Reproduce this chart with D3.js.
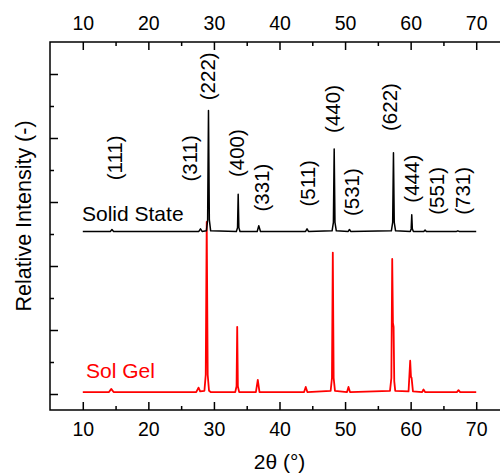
<!DOCTYPE html>
<html>
<head>
<meta charset="utf-8">
<script src="https://cdn.jsdelivr.net/npm/d3@7"></script>
<style>
  body { margin: 0; background: #fff; }
  svg text { font-family: "Liberation Sans", Arial, Helvetica, sans-serif; fill: #000; }
</style>
</head>
<body>
<svg id="grafico"></svg>
<script>
// padroes: [2theta, intensidade relativa]
const solGel = [
  [10, 0.03], [14.0, 0.03], [14.33, 0.08], [14.7, 0.03],
  [27.3, 0.03], [27.65, 0.10], [27.9, 0.04], [28.55, 0.05], [28.75, 0.3], [28.9, 2.69], [29.05, 0.3], [29.25, 0.05], [29.5, 0.03],
  [33.25, 0.03], [33.45, 0.12], [33.55, 1.05], [33.65, 0.12], [33.85, 0.03],
  [36.4, 0.03], [36.69, 0.22], [36.95, 0.03],
  [43.75, 0.03], [44.0, 0.11], [44.25, 0.03],
  [47.8, 0.05], [48.0, 0.25], [48.13, 2.21], [48.26, 0.25], [48.46, 0.05],
  [50.3, 0.03], [50.52, 0.11], [50.75, 0.03],
  [56.85, 0.05], [57.06, 0.25], [57.19, 2.11], [57.3, 1.11], [57.4, 1.05], [57.5, 0.2], [57.65, 0.05],
  [59.68, 0.04], [59.93, 0.52], [60.05, 0.27], [60.15, 0.25], [60.35, 0.04],
  [61.75, 0.03], [61.96, 0.07], [62.2, 0.03],
  [67.05, 0.03], [67.3, 0.06], [67.55, 0.03], [70, 0.03]
];

const solidState = [
  [10, 0.04], [14.2, 0.04], [14.45, 0.07], [14.7, 0.04],
  [27.7, 0.04], [27.95, 0.08], [28.2, 0.04], [28.85, 0.05], [29.04, 0.22], [29.17, 1.93], [29.3, 0.22], [29.5, 0.05],
  [33.42, 0.04], [33.6, 0.1], [33.7, 0.62], [33.8, 0.1], [33.98, 0.04],
  [36.6, 0.04], [36.84, 0.13], [37.1, 0.04],
  [43.98, 0.04], [44.2, 0.08], [44.42, 0.04],
  [48.02, 0.05], [48.22, 0.18], [48.34, 1.33], [48.46, 0.18], [48.66, 0.05],
  [57.06, 0.05], [57.26, 0.18], [57.38, 1.27], [57.5, 0.18], [57.7, 0.05],
  [50.48, 0.04], [50.67, 0.07], [50.86, 0.04],
  [59.94, 0.04], [60.08, 0.08], [60.17, 0.30], [60.26, 0.08], [60.42, 0.04],
  [62.0, 0.04], [62.2, 0.06], [62.4, 0.04],
  [67.0, 0.04], [67.2, 0.05], [67.4, 0.04], [70, 0.04]
];

const deslocamentoSolidState = 2.5;

const hkl = ["(111)", "(311)", "(222)", "(400)", "(331)", "(511)", "(440)", "(531)", "(622)", "(444)", "(551)", "(731)"];
const hklAngulo = [14.83, 26.27, 29.06, 33.4, 37.2, 44.3, 48.13, 50.93, 56.77, 60.08, 63.9, 67.95];
const hklAltura = [3.34, 3.32, 4.59, 3.39, 2.85, 2.93, 4.08, 2.78, 4.11, 2.99, 2.80, 2.80];

const ticksX = [10, 20, 30, 40, 50, 60, 70];
const ticksXMenores = [15, 25, 35, 45, 55, 65];
const ticksY = [0, 1, 2, 3, 4, 5];
const ticksYMenores = [0.5, 1.5, 2.5, 3.5, 4.5];

const largura = 500, altura = 476;
const margem = { esquerda: 50, topo: 42, direita: 509, base: 410 };

let svg = d3.select("#grafico")
  .attr("width", largura)
  .attr("height", altura);

let fnX = d3.scaleLinear().domain([5, 75]).range([margem.esquerda, margem.direita]);
let fnY = d3.scaleLinear().domain([-0.25, 5.5]).range([margem.base, margem.topo]);

// series (sol gel por baixo)
let linha = d3.line().x(d => fnX(d[0])).y(d => fnY(d[1]));
let ordenar = arr => arr.slice().sort((a, b) => a[0] - b[0]);

svg.append("path")
  .datum(ordenar(solGel))
  .attr("d", linha)
  .attr("fill", "none")
  .attr("stroke", "#ff0000")
  .attr("stroke-width", 1.8)
  .attr("stroke-linejoin", "round");

svg.append("path")
  .datum(ordenar(solidState).map(d => [d[0], d[1] + deslocamentoSolidState]))
  .attr("d", linha)
  .attr("fill", "none")
  .attr("stroke", "#000")
  .attr("stroke-width", 1.5)
  .attr("stroke-linejoin", "round");

// eixos
function eixo(gerador, transform, valores, tamanho, rotulos) {
  let g = svg.append("g")
    .attr("transform", transform)
    .call(gerador
      .tickValues(valores)
      .tickSize(tamanho)
      .tickSizeOuter(0)
      .tickPadding(12)
      .tickFormat(rotulos ? d3.format("d") : ""));
  g.select(".domain").remove();
  g.selectAll("line").attr("stroke", "#000").attr("stroke-width", 1.5);
  g.selectAll("text").attr("font-size", 19.5).attr("fill", "#000");
  return g;
}

eixo(d3.axisTop(fnX), `translate(0,${margem.topo})`, ticksX, -8, true);
eixo(d3.axisTop(fnX), `translate(0,${margem.topo})`, ticksXMenores, -4, false);
eixo(d3.axisBottom(fnX), `translate(0,${margem.base})`, ticksX, -8, true);
eixo(d3.axisBottom(fnX), `translate(0,${margem.base})`, ticksXMenores, -4, false);
eixo(d3.axisLeft(fnY), `translate(${margem.esquerda},0)`, ticksY, -8, false);
eixo(d3.axisLeft(fnY), `translate(${margem.esquerda},0)`, ticksYMenores, -4, false);

svg.append("path")
  .attr("d", `M${margem.direita},${margem.topo}H${margem.esquerda}V${margem.base}H${margem.direita}`)
  .attr("fill", "none")
  .attr("stroke", "#000")
  .attr("stroke-width", 1.5);

// indices de Miller
svg.selectAll(".rotulo")
  .data(hkl)
  .enter()
  .append("text")
  .classed("rotulo", true)
  .attr("transform", (d, i) => `translate(${fnX(hklAngulo[i])},${fnY(hklAltura[i])}) rotate(-90)`)
  .attr("dy", "0.36em")
  .attr("font-size", 20.5)
  .text(d => d);

// nomes das series
svg.append("text")
  .attr("x", 82)
  .attr("y", 221)
  .attr("font-size", 21)
  .text("Solid State");

svg.append("text")
  .attr("x", 86)
  .attr("y", 377.5)
  .attr("font-size", 21)
  .style("fill", "#ff0000")
  .text("Sol Gel");

// titulos
svg.append("text")
  .attr("x", (margem.esquerda + margem.direita) / 2)
  .attr("y", 469)
  .attr("text-anchor", "middle")
  .attr("font-size", 21)
  .text("2θ (°)");

svg.append("text")
  .attr("transform", "translate(31,216) rotate(-90)")
  .attr("text-anchor", "middle")
  .attr("font-size", 21.5)
  .text("Relative Intensity (-)");
</script>
</body>
</html>
